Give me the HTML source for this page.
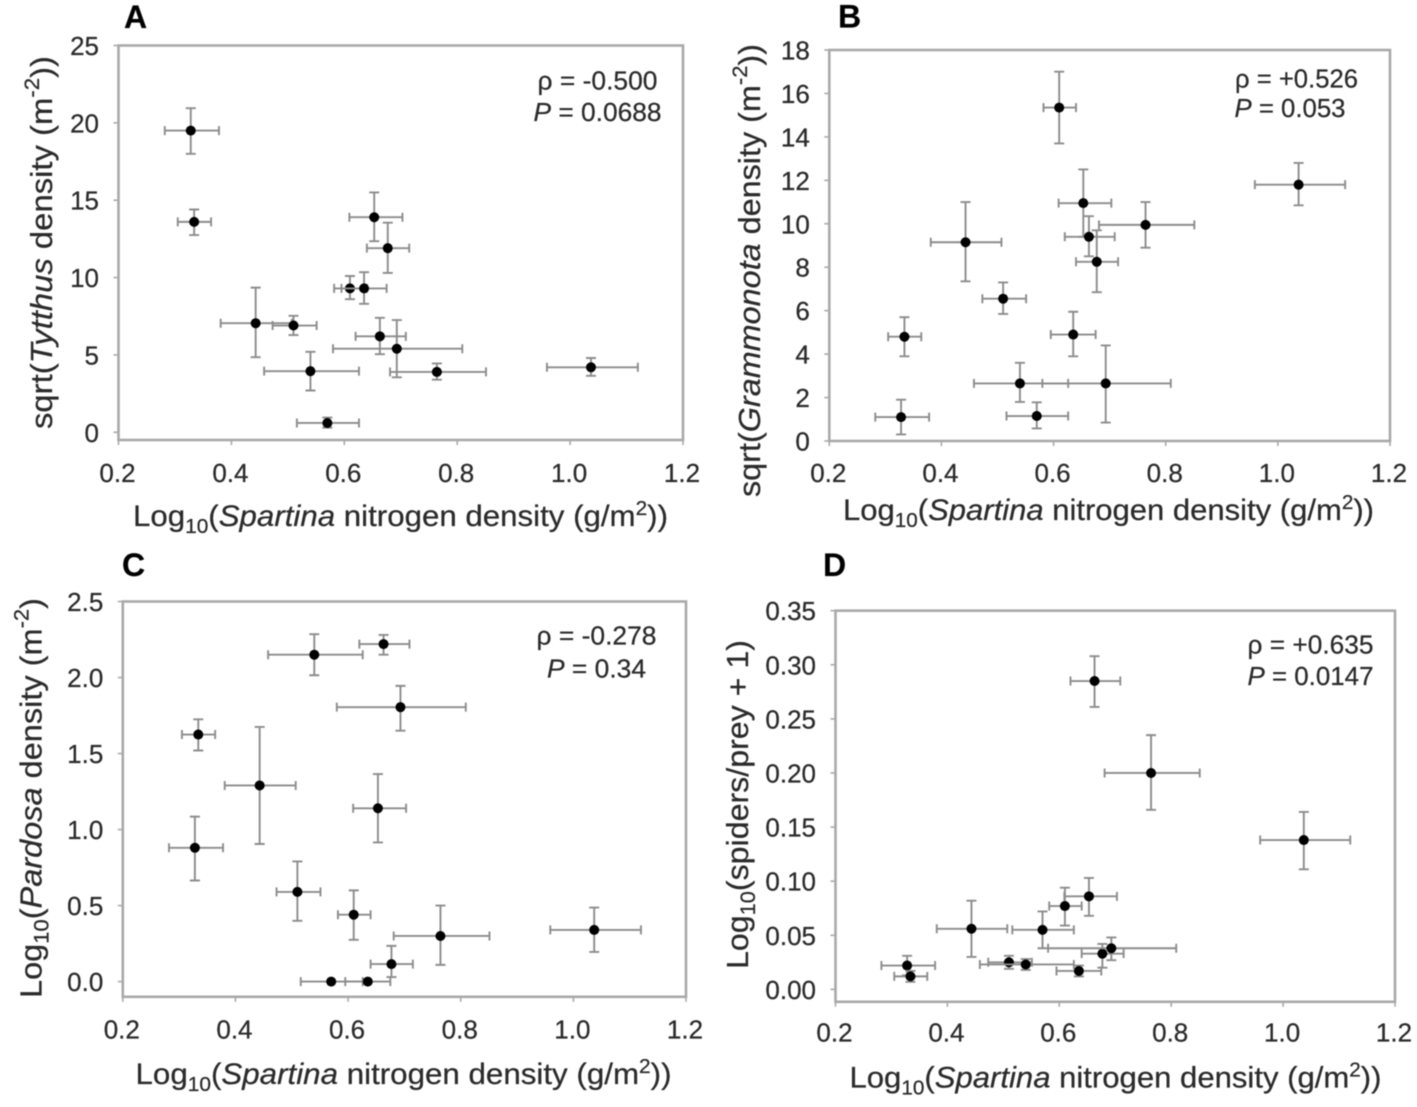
<!DOCTYPE html>
<html lang="en">
<head>
<meta charset="utf-8">
<title>Spartina nitrogen density scatter panels</title>
<style>
html,body{margin:0;padding:0;background:#fff;}
svg{display:block;font-family:"Liberation Sans",sans-serif;fill:#2b2b2b;filter:blur(0.5px);}
text{stroke:#2b2b2b;stroke-width:0.25px;}
</style>
</head>
<body>
<svg id="fig" xmlns="http://www.w3.org/2000/svg" width="1417" height="1107" viewBox="0 0 1417 1107">
  <rect width="1417" height="1107" fill="#fff"/>

  <text x="124" y="28" font-size="32" font-weight="bold" fill="#000">A</text>
  <text x="838" y="27.5" font-size="32" font-weight="bold" fill="#000">B</text>
  <text x="122" y="576" font-size="32" font-weight="bold" fill="#000">C</text>
  <text x="823" y="576" font-size="32" font-weight="bold" fill="#000">D</text>

  <text x="133" y="526" font-size="30" textLength="535" lengthAdjust="spacingAndGlyphs">Log<tspan font-size="20" dy="7">10</tspan><tspan dy="-7">(</tspan><tspan font-style="italic">Spartina</tspan> nitrogen density (g/m<tspan font-size="20" dy="-11">2</tspan><tspan dy="11">))</tspan></text>
  <text x="843" y="520" font-size="30" textLength="531" lengthAdjust="spacingAndGlyphs">Log<tspan font-size="20" dy="7">10</tspan><tspan dy="-7">(</tspan><tspan font-style="italic">Spartina</tspan> nitrogen density (g/m<tspan font-size="20" dy="-11">2</tspan><tspan dy="11">))</tspan></text>
  <text x="135.5" y="1084" font-size="30" textLength="536" lengthAdjust="spacingAndGlyphs">Log<tspan font-size="20" dy="7">10</tspan><tspan dy="-7">(</tspan><tspan font-style="italic">Spartina</tspan> nitrogen density (g/m<tspan font-size="20" dy="-11">2</tspan><tspan dy="11">))</tspan></text>
  <text x="849.5" y="1087.5" font-size="30" textLength="532" lengthAdjust="spacingAndGlyphs">Log<tspan font-size="20" dy="7">10</tspan><tspan dy="-7">(</tspan><tspan font-style="italic">Spartina</tspan> nitrogen density (g/m<tspan font-size="20" dy="-11">2</tspan><tspan dy="11">))</tspan></text>

  <text transform="translate(52 429) rotate(-90)" font-size="31" textLength="373" lengthAdjust="spacingAndGlyphs">sqrt(<tspan font-style="italic">Tytthus</tspan> density (m<tspan font-size="21" dy="-13">-2</tspan><tspan dy="13">))</tspan></text>
  <text transform="translate(760 497) rotate(-90)" font-size="31" textLength="453" lengthAdjust="spacingAndGlyphs">sqrt(<tspan font-style="italic">Grammonota</tspan> density (m<tspan font-size="21" dy="-13">-2</tspan><tspan dy="13">))</tspan></text>
  <text transform="translate(41.5 998) rotate(-90)" font-size="31" textLength="400" lengthAdjust="spacingAndGlyphs">Log<tspan font-size="21" dy="7">10</tspan><tspan dy="-7">(</tspan><tspan font-style="italic">Pardosa</tspan> density (m<tspan font-size="21" dy="-13">-2</tspan><tspan dy="13">)</tspan></text>
  <text transform="translate(748 969) rotate(-90)" font-size="31" textLength="329" lengthAdjust="spacingAndGlyphs">Log<tspan font-size="21" dy="7">10</tspan><tspan dy="-7">(spiders/prey + 1)</tspan></text>

  <text x="537.5" y="89.5" font-size="26" textLength="120" lengthAdjust="spacingAndGlyphs">ρ = -0.500</text>
  <text x="533.5" y="121" font-size="26" textLength="128" lengthAdjust="spacingAndGlyphs"><tspan font-style="italic">P</tspan> = 0.0688</text>
  <text x="1235" y="87.5" font-size="26" textLength="123" lengthAdjust="spacingAndGlyphs">ρ = +0.526</text>
  <text x="1234.5" y="117" font-size="26" textLength="111" lengthAdjust="spacingAndGlyphs"><tspan font-style="italic">P</tspan> = 0.053</text>
  <text x="536.5" y="644.5" font-size="26" textLength="120" lengthAdjust="spacingAndGlyphs">ρ = -0.278</text>
  <text x="547" y="677.5" font-size="26" textLength="99" lengthAdjust="spacingAndGlyphs"><tspan font-style="italic">P</tspan> = 0.34</text>
  <text x="1247.5" y="653.5" font-size="26" textLength="126" lengthAdjust="spacingAndGlyphs">ρ = +0.635</text>
  <text x="1247.5" y="685" font-size="26" textLength="126" lengthAdjust="spacingAndGlyphs"><tspan font-style="italic">P</tspan> = 0.0147</text>
</svg>

<script>
// Shared x values (site order)
const xMean = [0.328, 0.334, 0.443, 0.51, 0.54, 0.57, 0.61, 0.635, 0.653, 0.663, 0.677, 0.693, 0.764, 1.037];
const xLow  = [0.282, 0.305, 0.381, 0.473, 0.458, 0.516, 0.582, 0.595, 0.609, 0.62, 0.64, 0.58, 0.681, 0.959];
const xHigh = [0.378, 0.364, 0.507, 0.551, 0.626, 0.626, 0.64, 0.675, 0.703, 0.709, 0.715, 0.809, 0.851, 1.12];
const xTickLabels = ["0.2", "0.4", "0.6", "0.8", "1.0", "1.2"];

// Panel A
const yA     = [19.5, 13.6, 7.05, 6.9, 3.95, 0.6, 9.3, 9.3, 13.9, 6.2, 11.9, 5.4, 3.9, 4.2];
const yALow  = [18.0, 12.75, 4.85, 6.28, 2.7, 0.3, 8.6, 8.3, 12.35, 5.05, 10.3, 3.55, 3.4, 3.65];
const yAHigh = [20.95, 14.4, 9.35, 7.53, 5.2, 0.95, 10.1, 10.35, 15.5, 7.4, 13.55, 7.25, 4.45, 4.8];
const yATickLabels = ["0", "5", "10", "15", "20", "25"];

// Panel B
const yB     = [1.1, 4.8, 9.15, 6.55, 2.65, 1.15, 15.35, 4.9, 10.95, 9.4, 8.25, 2.65, 9.95, 11.8];
const yBLow  = [0.3, 3.9, 7.35, 5.85, 1.8, 0.58, 13.7, 3.9, 9.4, 8.5, 6.85, 0.85, 8.9, 10.85];
const yBHigh = [1.9, 5.7, 11.0, 7.3, 3.6, 1.78, 17.0, 5.95, 12.5, 10.35, 9.7, 4.4, 11.0, 12.8];
const yBTickLabels = ["0", "2", "4", "6", "8", "10", "12", "14", "16", "18"];

// Panel C
const yC     = [0.88, 1.625, 1.29, 0.59, 2.15, 0.0, 0.44, 0.0, 1.14, 2.22, 0.115, 1.805, 0.30, 0.34];
const yCLow  = [0.665, 1.52, 0.905, 0.40, 2.015, 0.0, 0.275, 0.0, 0.915, 2.15, 0.03, 1.65, 0.11, 0.195];
const yCHigh = [1.085, 1.725, 1.675, 0.79, 2.285, 0.0, 0.60, 0.0, 1.365, 2.28, 0.235, 1.945, 0.50, 0.487];
const yCTickLabels = ["0.0", "0.5", "1.0", "1.5", "2.0", "2.5"];

// Panel D
const yD     = [0.022, 0.012, 0.056, 0.025, 0.023, 0.055, 0.077, 0.017, 0.086, 0.285, 0.033, 0.038, 0.2, 0.138];
const yDLow  = [0.013, 0.007, 0.03, 0.019, 0.018, 0.038, 0.059, 0.012, 0.068, 0.261, 0.02, 0.027, 0.166, 0.111];
const yDHigh = [0.031, 0.017, 0.082, 0.031, 0.028, 0.072, 0.094, 0.022, 0.103, 0.308, 0.042, 0.048, 0.235, 0.164];
const yDTickLabels = ["0.00", "0.05", "0.10", "0.15", "0.20", "0.25", "0.30", "0.35"];

const NS = "http://www.w3.org/2000/svg";
const svg = document.getElementById("fig");
const AXIS = "#a9a9a9", BAR = "#8c8c8c", INK = "#2b2b2b";

function make(tag, attrs, parent) {
  const node = document.createElementNS(NS, tag);
  for (const k in attrs) node.setAttribute(k, attrs[k]);
  parent.appendChild(node);
  return node;
}

function drawPanel(p) {
  const sx = v => p.left + (v - 0.2) / (1.2 - 0.2) * (p.right - p.left);
  const sy = v => p.bottom - (v - p.yMin) / (p.yMax - p.yMin) * (p.bottom - p.top);

  const g = make("g", {}, svg);
  
  

  const frame = make("rect", {x: p.left, y: p.top, width: p.right - p.left, height: p.bottom - p.top, fill: "none", stroke: AXIS, "stroke-width": 2.6}, g);
  
  

  xTickLabels.forEach(label => {
    const v = Number(label);
    const tick = make("line", {x1: sx(v), x2: sx(v), y1: p.bottom, y2: p.bottom + 5, stroke: AXIS, "stroke-width": 1.6}, g);
    
    
    const t = make("text", {x: sx(v) - 1, y: p.xLabelY, "text-anchor": "middle", "font-size": 26, fill: INK}, g);
    t.textContent = label;
    
    
  });

  p.ticks.forEach(label => {
    const v = Number(label);
    const tick = make("line", {x1: p.left - 5, x2: p.left, y1: sy(v), y2: sy(v), stroke: AXIS, "stroke-width": 1.6}, g);
    
    
    const t = make("text", {x: p.left - 19.5, y: sy(v) + 9.5, "text-anchor": "end", "font-size": 26, fill: INK}, g);
    t.textContent = label;
    
    
  });

  xMean.forEach((xv, i) => {
    const cx = sx(xv), cy = sy(p.y[i]);
    const lo = sx(xLow[i]), hi = sx(xHigh[i]);
    const yLo = sy(p.yLow[i]), yHi = sy(p.yHigh[i]);
    const style = {stroke: BAR, "stroke-width": 1.9, fill: "none"};

    const xBar = make("path", Object.assign({d: `M${lo} ${cy}H${hi}M${lo} ${cy - 4.5}V${cy + 4.5}M${hi} ${cy - 4.5}V${cy + 4.5}`}, style), g);
    
    

    if (p.yHigh[i] !== p.yLow[i]) {
      const yBar = make("path", Object.assign({d: `M${cx} ${yLo}V${yHi}M${cx - 5} ${yLo}H${cx + 5}M${cx - 5} ${yHi}H${cx + 5}`}, style), g);
      
      
    }

    const dot = make("circle", {cx: cx, cy: cy, r: 5, fill: "#000"}, g);
    
    
  });
}

drawPanel({id: "a", left: 118.5, right: 683, top: 45.5, bottom: 440, yMin: -0.5, yMax: 25, xLabelY: 482, y: yA, yLow: yALow, yHigh: yAHigh, ticks: yATickLabels});
drawPanel({id: "b", left: 829.3, right: 1390, top: 50, bottom: 441, yMin: 0, yMax: 18, xLabelY: 482, y: yB, yLow: yBLow, yHigh: yBHigh, ticks: yBTickLabels});
drawPanel({id: "c", left: 122.8, right: 686, top: 601.5, bottom: 996.8, yMin: -0.1, yMax: 2.5, xLabelY: 1038.5, y: yC, yLow: yCLow, yHigh: yCHigh, ticks: yCTickLabels});
drawPanel({id: "d", left: 835.5, right: 1395, top: 610.7, bottom: 1001.8, yMin: -0.0115, yMax: 0.35, xLabelY: 1041.5, y: yD, yLow: yDLow, yHigh: yDHigh, ticks: yDTickLabels});
</script>
</body>
</html>
